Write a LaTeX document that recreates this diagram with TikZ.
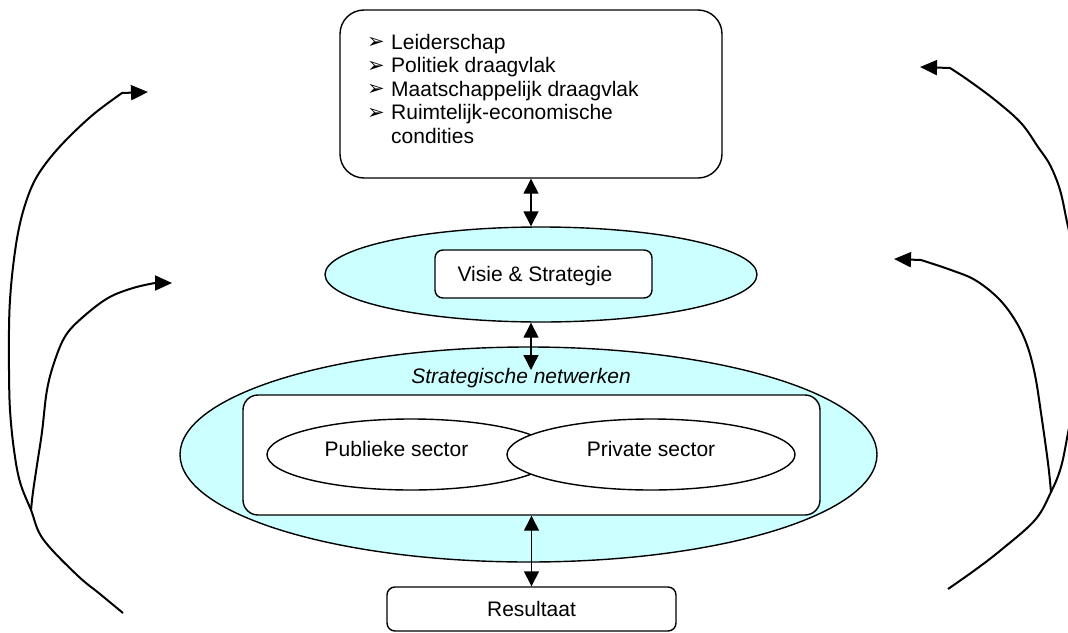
\documentclass[tikz,border=0pt]{standalone}
\usepackage{fontspec}
\setmainfont{Liberation Sans}
\newfontfamily\dingfont{DejaVu Sans}
\usetikzlibrary{arrows.meta,shapes.geometric}
\definecolor{paleCyan}{RGB}{204,255,255}

\begin{document}
\begin{tikzpicture}[x=1pt,y=-1pt,
  txt/.style={font=\fontsize{21}{23.5}\selectfont, inner sep=0pt},
  itxt/.style={font=\fontsize{21}{23.5}\selectfont\itshape, inner sep=0pt},
  bul/.style={font=\dingfont\fontsize{21}{21}\selectfont, inner sep=0pt, anchor=base west},
  box/.style={draw, line width=1.4pt, fill=white, rounded corners=#1, inner sep=0pt},
  cloud/.style={draw, ellipse, line width=1.4pt, fill=paleCyan, inner sep=0pt},
  sector/.style={draw, ellipse, line width=1.4pt, fill=white, inner sep=0pt,
    minimum width=288pt, minimum height=71pt, txt, text depth=11pt},
  dbl/.style={{Triangle[length=15pt,width=15pt]}-{Triangle[length=15pt,width=15pt]}, line width=1.4pt},
  curve/.style={line width=2pt, line join=round, -{Triangle[length=17pt,width=15pt]}}
]
\path[use as bounding box] (0,0) rectangle (1068,632);

% central column
\node[cloud, minimum width=697pt, minimum height=215pt] (net) at (528.5,454.5) {};
\node[cloud, minimum width=432pt, minimum height=95pt] (vis) at (541,274.5) {};
\node[box=8pt, minimum width=217pt, minimum height=48pt, txt, text depth=0pt] (vs) at (543.5,274) {Visie \& Strategie\hspace*{17pt}};

\node[box=24pt, minimum width=382pt, minimum height=168pt] (top) at (531,94) {};
\node[bul] (d1) at (367,48.5) {➢};
\node[bul] (d2) at (367,72) {➢};
\node[bul] (d3) at (367,95.5) {➢};
\node[bul] (d4) at (367,119) {➢};
\node[txt, anchor=base west] (l1) at (391,49) {Leiderschap};
\node[txt, anchor=base west] (l2) at (391,72.5) {Politiek draagvlak};
\node[txt, anchor=base west] (l3) at (391,96) {Maatschappelijk draagvlak};
\node[txt, anchor=base west] (l4) at (391,119.5) {Ruimtelijk-economische};
\node[txt, anchor=base west] (l5) at (391,143) {condities};

\node[itxt, anchor=base] (sn) at (521,383) {Strategische netwerken};
\node[box=15pt, minimum width=577pt, minimum height=120pt] (grp) at (531.5,455) {};
\node[sector] (pub) at (411,454.5) {Publieke sector\hspace*{29pt}};
\node[sector] (priv) at (651,454.5) {Private sector};

\node[box=8pt, minimum width=289pt, minimum height=44pt, txt, text depth=0pt] (res) at (531.5,609) {Resultaat};

% two-way links
\coordinate (a2end) at (531,370);
\draw[dbl] (top.south) -- (top.south |- vis.north);
\draw[dbl] (top.south |- vis.south) -- (a2end);
\draw[dbl] (grp.south) -- (res.north);

% feedback loops, left side
\coordinate (lfoot) at (123,613);
\coordinate (lx) at (31,510);
\coordinate (lotip) at (148,92);
\coordinate (litip) at (172,283);
\draw[curve] plot[smooth, tension=0.6] coordinates {(lfoot) (100,594) (77,575) (43,539) (lx) (20,482) (14,450) (10,410) (9,370) (9,330) (10,300) (13,267) (18,233) (25,205) (35,180) (50,158) (70,136) (95,113) (122,93)} -- (lotip);
\draw[curve] plot[smooth, tension=0.6] coordinates {(lx) (33,492) (37,465) (42,432) (47,390) (55,360) (66,335) (83,317) (108,298) (133,288) (155,283)} -- (litip);

% feedback loops, right side
\coordinate (rfoot) at (948,589);
\coordinate (rx) at (1051,492);
\coordinate (rotip) at (920,67);
\coordinate (ritip) at (894,259);
\begin{scope}
\clip (0,0) rectangle (1068,632);
\draw[curve] plot[smooth, tension=0.6] coordinates {(rfoot) (975,570) (1001,550) (1035,520) (rx) (1061,467) (1068,433) (1076,390) (1080,330) (1077,270) (1067,222) (1060,190) (1050,165) (1038,147) (1021,123) (995,100) (968,80) (950,68)} -- (rotip);
\end{scope}
\draw[curve] plot[smooth, tension=0.6] coordinates {(rx) (1048,463) (1041,413) (1035,375) (1027,345) (1015,320) (998,298) (975,280) (951,270) (921,260)} -- (ritip);
\end{tikzpicture}
\end{document}
